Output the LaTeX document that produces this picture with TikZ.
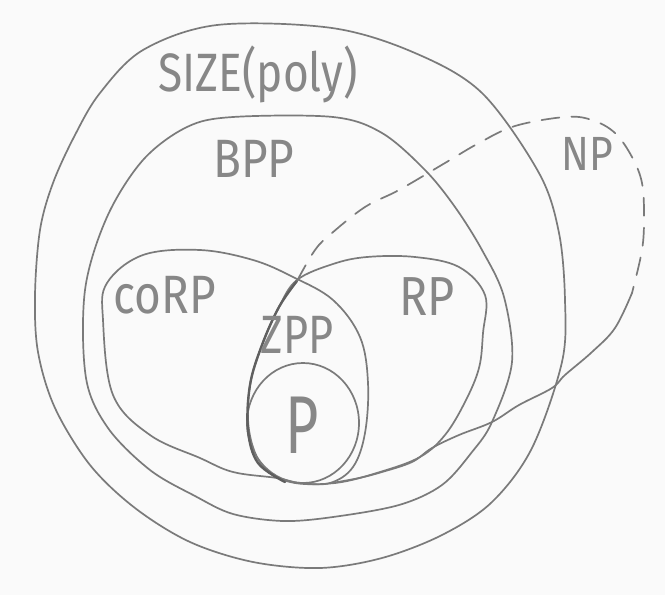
\documentclass[tikz,border=0pt]{standalone}
\usepackage{fontspec}
\setmainfont{Fira Sans}
\begin{document}
\begin{tikzpicture}[x=1pt,y=-1pt,
  pencil/.style={draw=inkgray, line width=1.7pt, line cap=round, line join=round},
  heavy/.style={draw=inkdark, line width=2.4pt, line cap=round},
  npdash/.style={pencil, dash pattern=on 18pt off 12pt},
  lbl/.style={text=textgray, inner sep=0pt, anchor=base}]
\definecolor{inkgray}{RGB}{122,122,122}
\definecolor{inkdark}{RGB}{95,95,95}
\definecolor{textgray}{RGB}{135,135,135}
\definecolor{paper}{RGB}{250,250,250}
\fill[paper] (0,0) rectangle (665,595);
\useasboundingbox (0,0) rectangle (665,595);

% SIZE(poly)
\draw[pencil] plot[smooth cycle, tension=0.55] coordinates {
  (35,295) (40,230) (53,183) (75,135) (100,93) (143,50) (217,25) (332,28)
  (415,53) (482,93) (539,173) (559,233) (565,300) (562,362) (532,448)
  (492,502) (442,535) (382,558) (320,568) (253,562) (190,542) (135,508)
  (90,465) (55,408) (38,352)};

% BPP
\draw[pencil] plot[smooth cycle, tension=0.55] coordinates {
  (85,290) (107,217) (143,160) (187,127) (233,117) (333,117) (382,133)
  (425,170) (455,207) (482,250) (504,297) (512,362) (492,422) (472,452)
  (442,485) (399,505) (333,517) (283,521) (233,514) (195,496) (150,470)
  (108,428) (86,378)};

% coRP
\draw[pencil] plot[smooth cycle, tension=0.6] coordinates {
  (103,320) (107,283) (143,255) (200,250) (253,260) (293,277) (333,300)
  (360,337) (368,383) (365,433) (353,467) (330,483) (300,483) (277,478)
  (233,472) (200,458) (150,435) (113,395)};

% RP
\draw[pencil] plot[smooth cycle, tension=0.6] coordinates {
  (297,280) (333,264) (367,257) (415,257) (459,267) (485,295) (483,333)
  (479,368) (465,402) (445,435) (420,457) (380,472) (335,483) (290,482)
  (262,465) (249,430) (250,385) (262,345) (279,307)};

% P
\draw[pencil] (303,423) ellipse[x radius=56, y radius=60];

% NP: shared boundary along ZPP and P, then its own outline
\draw[heavy] plot[smooth, tension=0.6] coordinates {
  (297,281) (279,307) (262,345) (250,385) (248,430) (258,463) (285,482)};
\draw[npdash] plot[smooth, tension=0.6] coordinates {
  (297,281) (315,250) (332,233) (365,207) (399,190) (445,163) (479,143)
  (515,126) (565,117) (592,120) (615,133) (632,157) (642,183) (644,217)
  (642,250) (632,293)};
\draw[pencil] plot[smooth, tension=0.6] coordinates {
  (632,293) (615,328) (592,352) (565,375) (552,388) (519,405) (492,422)
  (459,435) (432,448) (412,462) (382,472) (359,478) (332,483)};

% labels
\node[lbl, font=\fontsize{54}{54}\selectfont] (size) at (258,91) {\scalebox{0.82}[1]{SIZE(poly)}};
\node[lbl, font=\fontsize{54}{54}\selectfont] (bpp) at (254,177) {\scalebox{0.85}[1]{BPP}};
\node[lbl, font=\fontsize{54}{54}\selectfont] (corp) at (165,313) {\scalebox{0.85}[1]{coRP}};
\node[lbl, font=\fontsize{54}{54}\selectfont] (zpp) at (297,353) {\scalebox{0.8}[1]{ZPP}};
\node[lbl, font=\fontsize{55}{55}\selectfont] (rp) at (427,315) {\scalebox{0.85}[1]{RP}};
\node[lbl, font=\fontsize{82}{82}\selectfont] (p) at (302,453) {\scalebox{0.7}[1]{P}};
\node[lbl, font=\fontsize{48}{48}\selectfont] (np) at (587,170) {\scalebox{0.85}[1]{NP}};
\end{tikzpicture}
\end{document}
